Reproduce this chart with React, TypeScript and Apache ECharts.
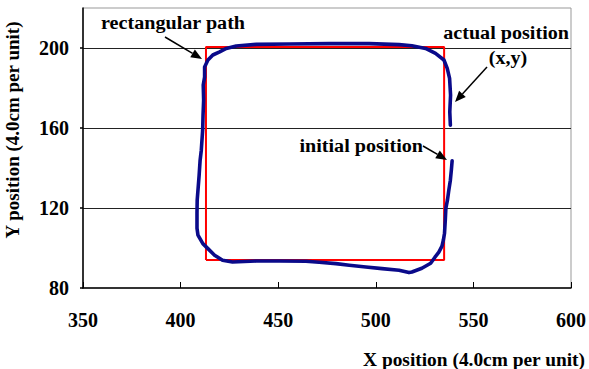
import { useEffect, useRef } from "react";
import * as echarts from "echarts";

// Reference rectangular path (data units)
const rectX = [413, 413, 535, 535, 413];
const rectY = [94, 200.5, 200.5, 94, 94];

// Actual robot trajectory (data units), starting at the initial position
const pathX = [
  539.1, 538.7, 538.2, 537.4, 536.7, 535.9, 535.6, 535.2, 534.6, 533.9, 532.3, 530.3, 528.1, 523.6,
  518.5, 517.0, 511.9, 503.2, 494.9, 486.4, 479.6, 471.0, 464.2, 450.6, 438.7, 426.6, 421.5, 417.4,
  414.0, 411.4, 408.9, 408.4, 408.4, 408.5, 408.9, 409.5, 410.0, 410.6, 411.3, 411.5, 411.8, 411.6,
  412.3, 412.3, 414.0, 416.5, 420.0, 423.4, 428.5, 438.7, 455.7, 476.1, 496.6, 511.9, 518.5, 525.5,
  530.6, 534.9, 536.6, 537.8, 538.3, 537.9, 538.2,
];
const pathY = [
  143.6, 138.9, 133.9, 128.9, 123.9, 119.9, 113.9, 107.4, 103.9, 100.9, 97.9, 95.4, 92.4, 89.9,
  88.0, 87.7, 88.9, 89.7, 90.5, 91.4, 92.2, 92.9, 93.4, 93.5, 93.5, 93.0, 93.9, 96.4,
  99.7, 102.2, 106.4, 109.9, 117.4, 123.9, 128.9, 136.4, 143.9, 148.9, 158.9, 166.4, 173.9, 181.5,
  185.5, 190.5, 194.0, 196.5, 198.1, 199.8, 201.0, 201.8, 202.0, 202.2, 202.2, 201.7, 201.1, 199.8,
  197.3, 194.0, 189.8, 184.8, 176.4, 168.1, 161.4,
];

const xTicks = { min: 350, max: 600, step: 50 };
const yTicks = { min: 80, max: 220, step: 40 };

const FONT = '"Liberation Serif", "Times New Roman", serif';

function arrow(x1: number, y1: number, x2: number, y2: number) {
  const head = 11;
  const w = 4.5;
  const dx = x2 - x1;
  const dy = y2 - y1;
  const L = Math.hypot(dx, dy);
  const ux = dx / L;
  const uy = dy / L;
  const bx = x2 - ux * head;
  const by = y2 - uy * head;
  return [
    {
      type: "line",
      shape: { x1, y1, x2: bx, y2: by },
      style: { stroke: "#000", lineWidth: 1.5 },
      z: 100,
    },
    {
      type: "polygon",
      shape: {
        points: [
          [x2, y2],
          [bx - uy * w, by + ux * w],
          [bx + uy * w, by - ux * w],
        ],
      },
      style: { fill: "#000" },
      z: 100,
    },
  ];
}

function label(text: string, x: number, y: number, align: string, extra: any = {}) {
  return {
    type: "text",
    x,
    y,
    z: 100,
    scaleX: 1.06,
    ...extra,
    style: {
      text,
      font: `bold 19px ${FONT}`,
      fill: "#000",
      textAlign: align,
      textVerticalAlign: "middle",
    },
  };
}

export default function App() {
  const ref = useRef<HTMLDivElement>(null);
  useEffect(() => {
    document.body.style.margin = "0";
    if (!ref.current) return;
    const chart = echarts.init(ref.current, undefined, { renderer: "svg" });
    const traj = pathX.map((x, i) => [x, pathY[i]]);
    const rect = rectX.map((x, i) => [x, rectY[i]]);
    chart.setOption({
      animation: false,
      backgroundColor: "#fff",
      grid: {
        left: 83,
        right: 16,
        top: 8,
        bottom: 81,
        show: true,
        borderColor: "#999",
        borderWidth: 1,
        backgroundColor: "transparent",
      },
      xAxis: {
        type: "value",
        min: xTicks.min,
        max: xTicks.max,
        interval: xTicks.step,
        axisLine: { show: true, onZero: false, lineStyle: { color: "#000", width: 1.5 } },
        axisTick: { show: true, inside: true, length: 6, lineStyle: { color: "#000", width: 1 } },
        splitLine: { show: false },
        axisLabel: {
          margin: 22,
          color: "#000",
          fontFamily: FONT,
          fontWeight: "bold",
          fontSize: 20,
        },
      },
      yAxis: {
        type: "value",
        min: yTicks.min,
        max: yTicks.max,
        interval: yTicks.step,
        axisLine: { show: true, onZero: false, lineStyle: { color: "#000", width: 1.5 } },
        axisTick: { show: true, inside: false, length: 3, lineStyle: { color: "#000", width: 1.5 } },
        splitLine: {
          show: true,
          showMinLine: false,
          showMaxLine: false,
          lineStyle: { color: "#222", width: 1 },
        },
        axisLabel: {
          margin: 14,
          color: "#000",
          fontFamily: FONT,
          fontWeight: "bold",
          fontSize: 20,
          showMaxLabel: false,
          formatter: (v: number) => (v >= yTicks.max ? "" : String(v)),
        },
      },
      series: [
        {
          type: "line",
          name: "rectangular path",
          data: rect,
          symbol: "none",
          lineStyle: { color: "#ff0000", width: 2 },
          z: 2,
        },
        {
          type: "line",
          name: "actual position",
          data: traj,
          symbol: "none",
          lineStyle: { color: "#0a0a8a", width: 3.6, join: "round", cap: "round" },
          z: 3,
        },
      ],
      graphic: [
        label("rectangular path", 101, 23, "left"),
        ...arrow(165, 37, 202, 59),
        label("actual position", 569, 33, "right"),
        label("(x,y)", 508, 58, "center"),
        ...arrow(487, 67, 455, 102),
        label("initial position", 423, 146, "right"),
        ...arrow(423, 146, 447, 160),
        label("X position (4.0cm per unit)", 585, 360, "right", { scaleX: 1.02 }),
        label("Y position (4.0cm per unit)", 12, 130, "center", { rotation: Math.PI / 2, scaleX: 1.0 }),
      ],
    });
    return () => chart.dispose();
  }, []);
  return <div ref={ref} style={{ width: 589, height: 369 }} />;
}
